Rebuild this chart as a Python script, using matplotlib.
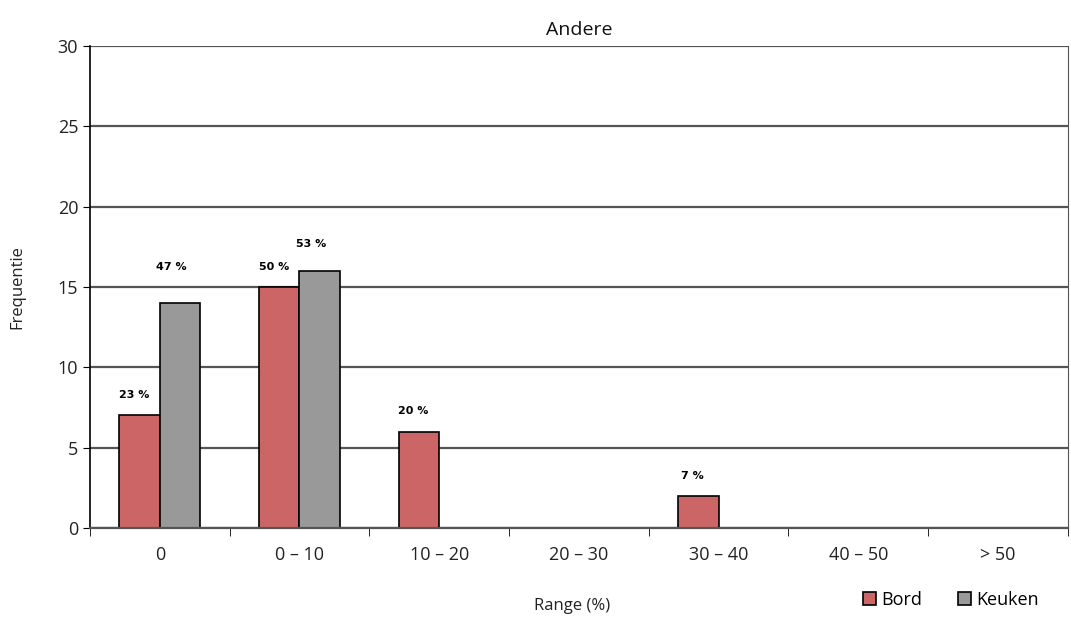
import matplotlib
matplotlib.use("Agg")
import matplotlib.pyplot as plt
import numpy as np

categories = ["0", "0 – 10", "10 – 20", "20 – 30", "30 – 40", "40 – 50", "> 50"]
bord = [7, 15, 6, 0, 2, 0, 0]
keuken = [14, 16, 0, 0, 0, 0, 0]
bord_labels = ["23 %", "50 %", "20 %", None, "7 %", None, None]
keuken_labels = ["47 %", "53 %", None, None, None, None, None]

plt.rcParams["font.family"] = ["Open Sans", "DejaVu Sans"]

fig = plt.figure(figsize=(10.71, 6.19), dpi=100)
ax = fig.add_axes([0.084, 0.147, 0.913, 0.779])

x = np.arange(len(categories))
w = 0.29
red = "#cc6666"
grey = "#999999"

ax.set_axisbelow(True)
ax.yaxis.grid(True, color="#555555", linewidth=1.6)
ax.bar(x - w / 2, bord, w, color=red, edgecolor="black", linewidth=1.2, label="Bord")
ax.bar(x + w / 2, keuken, w, color=grey, edgecolor="black", linewidth=1.2, label="Keuken")

# percentage labels above the bars
keuken_offsets = [22, 16, 16, 16, 16, 16, 16]
for i, (b, lab) in enumerate(zip(bord, bord_labels)):
    if lab and b > 0:
        ax.annotate(lab, (x[i] - w / 2, b), xytext=(-4, 11), textcoords="offset points",
                    ha="center", va="bottom", fontsize=8, fontweight="bold",
                    family=["DejaVu Sans"])
for i, (k, lab) in enumerate(zip(keuken, keuken_labels)):
    if lab and k > 0:
        ax.annotate(lab, (x[i] + w / 2, k), xytext=(-6, keuken_offsets[i]),
                    textcoords="offset points", ha="center", va="bottom",
                    fontsize=8, fontweight="bold", family=["DejaVu Sans"])

ax.set_xlim(-0.5, len(categories) - 0.5)
ax.set_ylim(0, 30)
ax.set_yticks(range(0, 31, 5))
ax.set_xticks(x)
ax.set_xticklabels(categories, fontsize=13, color="#222222")
ax.set_xticks(np.arange(-0.5, len(categories)), minor=True)
ax.tick_params(axis="x", which="major", length=0, pad=13)
ax.tick_params(axis="x", which="minor", length=6, direction="out", color="black")
ax.tick_params(axis="y", labelsize=13, length=5, direction="out", labelcolor="#222222")

ax.spines["top"].set_visible(False)
ax.spines["right"].set_color("#555555")
ax.spines["right"].set_linewidth(0.8)
ax.spines["left"].set_linewidth(1.2)
ax.spines["bottom"].set_color("#555555")
ax.spines["bottom"].set_linewidth(1.6)

ax.set_title("Andere", fontsize=14, pad=8, color="#111111")
ax.set_ylabel("Frequentie", fontsize=12, color="#222222")
ax.yaxis.set_label_coords(-0.066, 0.5)
fig.text(0.534, 0.008, "Range (%)", ha="center", va="bottom", fontsize=12, color="#222222")

leg = fig.legend(loc="lower right", bbox_to_anchor=(0.985, -0.01), ncol=2, frameon=False,
                 fontsize=13, handlelength=0.7, handleheight=0.7, handletextpad=0.3,
                 columnspacing=2.0)

fig.savefig("out.png", dpi=100)
